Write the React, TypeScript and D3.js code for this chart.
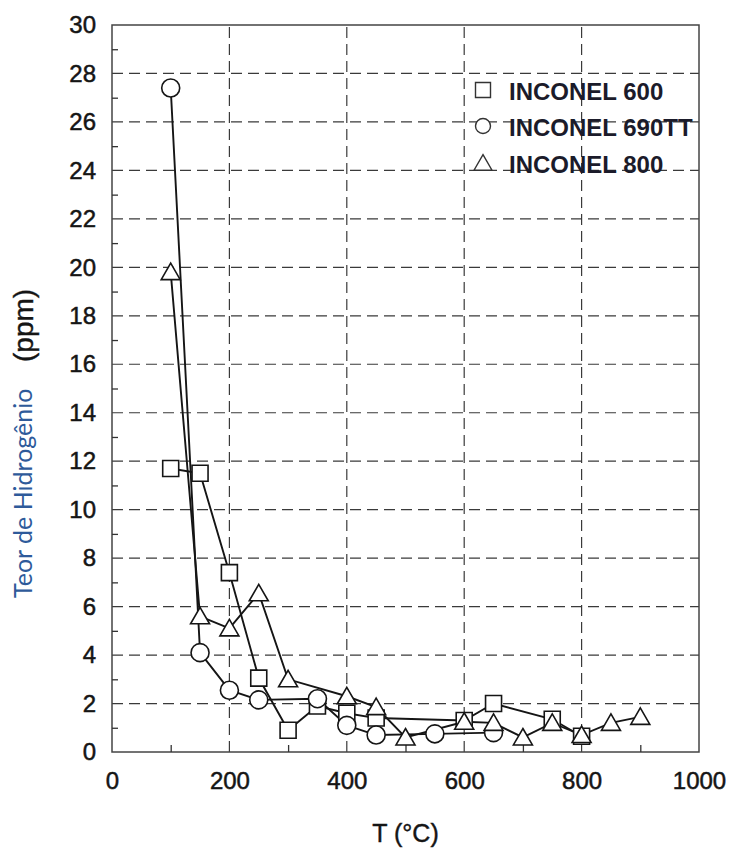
import React, { useEffect, useRef } from 'react';
import * as d3 from 'd3';

// Hydrogen content (ppm) vs temperature (°C)
const temps600 = [100, 150, 200, 250, 300, 350, 400, 450, 600, 650, 750, 800];
const inconel600 = [11.7, 11.5, 7.4, 3.05, 0.9, 1.9, 1.6, 1.4, 1.3, 2.0, 1.35, 0.65];

const temps690 = [100, 150, 200, 250, 350, 400, 450, 550, 650];
const inconel690 = [27.4, 4.1, 2.55, 2.15, 2.2, 1.1, 0.7, 0.75, 0.8];

const temps800 = [100, 150, 200, 250, 300, 400, 450, 500, 600, 650, 700, 750, 800, 850, 900];
const inconel800 = [19.8, 5.6, 5.1, 6.55, 3.0, 2.3, 1.85, 0.6, 1.25, 1.2, 0.6, 1.2, 0.7, 1.2, 1.45];

const seriesNames = ['INCONEL 600', 'INCONEL 690TT', 'INCONEL 800'];
const seriesShapes = ['square', 'circle', 'triangle'];

const xTicks = [0, 200, 400, 600, 800, 1000];
const yTicks = [0, 2, 4, 6, 8, 10, 12, 14, 16, 18, 20, 22, 24, 26, 28, 30];

function App() {
  const svgRef = useRef<SVGSVGElement>(null);

  useEffect(() => {
    const width = 734;
    const height = 849;
    const margin = { top: 25, right: 35, bottom: 97, left: 112 };

    const svg = d3.select(svgRef.current);
    svg.selectAll('*').remove();

    const x = d3.scaleLinear().domain([0, 1000]).range([margin.left, width - margin.right]);
    const y = d3.scaleLinear().domain([0, 30]).range([height - margin.bottom, margin.top]);

    const ink = '#151515';
    const tickFont = '"Liberation Sans", Arial, sans-serif';

    // dashed grid
    const grid = svg.append('g').attr('stroke', '#3a3a3a').attr('stroke-width', 1.2).attr('stroke-dasharray', '11,6');
    grid
      .selectAll('line.gx')
      .data(xTicks.filter((t) => t > 0 && t < 1000))
      .enter()
      .append('line')
      .attr('x1', (d) => x(d))
      .attr('x2', (d) => x(d))
      .attr('y1', y(0))
      .attr('y2', y(30));
    grid
      .selectAll('line.gy')
      .data(yTicks.filter((t) => t > 0 && t < 30))
      .enter()
      .append('line')
      .attr('x1', x(0))
      .attr('x2', x(1000))
      .attr('y1', (d) => y(d))
      .attr('y2', (d) => y(d));

    // frame
    svg
      .append('rect')
      .attr('x', x(0))
      .attr('y', y(30))
      .attr('width', x(1000) - x(0))
      .attr('height', y(0) - y(30))
      .attr('fill', 'none')
      .attr('stroke', '#444')
      .attr('stroke-width', 1.5);

    // minor ticks pointing inward
    const yMinor = d3
      .axisLeft(y)
      .tickValues(d3.range(1, 30, 2))
      .tickSize(-6)
      .tickFormat(() => '');
    svg.append('g').attr('transform', `translate(${x(0)},0)`).call(yMinor).call((g) => g.select('.domain').remove());

    const xMinor = d3
      .axisBottom(x)
      .tickValues(d3.range(100, 1000, 200))
      .tickSize(-7)
      .tickFormat(() => '');
    svg.append('g').attr('transform', `translate(0,${y(0)})`).call(xMinor).call((g) => g.select('.domain').remove());

    svg.selectAll('.tick line').attr('stroke', '#333').attr('stroke-width', 1.3);

    // tick labels
    const yAxis = d3.axisLeft(y).tickValues(yTicks).tickSize(0).tickPadding(16).tickFormat(d3.format('d'));
    const gy = svg.append('g').attr('transform', `translate(${x(0)},0)`).call(yAxis);
    gy.select('.domain').remove();
    gy.selectAll('text')
      .attr('font-family', tickFont)
      .attr('font-size', 24)
      .attr('fill', ink)
      .attr('stroke', ink)
      .attr('stroke-width', 0.5);

    const xAxis = d3.axisBottom(x).tickValues(xTicks).tickSize(0).tickPadding(20).tickFormat(d3.format('d'));
    const gx = svg.append('g').attr('transform', `translate(0,${y(0)})`).call(xAxis);
    gx.select('.domain').remove();
    gx.selectAll('text')
      .attr('font-family', tickFont)
      .attr('font-size', 24)
      .attr('fill', ink)
      .attr('stroke', ink)
      .attr('stroke-width', 0.5);

    // axis titles
    svg
      .append('text')
      .attr('x', (x(0) + x(1000)) / 2)
      .attr('y', 842)
      .attr('text-anchor', 'middle')
      .attr('font-family', tickFont)
      .attr('font-size', 25)
      .attr('fill', ink)
      .attr('stroke', ink)
      .attr('stroke-width', 0.4)
      .text('T (°C)');

    svg
      .append('text')
      .attr('transform', 'translate(32,598) rotate(-90)')
      .attr('font-family', 'Lato, "Open Sans", sans-serif')
      .attr('font-size', 25)
      .attr('fill', '#2E5A9A')
      .text('Teor de Hidrogênio');

    svg
      .append('text')
      .attr('transform', 'translate(33,362) rotate(-90)')
      .attr('font-family', tickFont)
      .attr('font-size', 28)
      .attr('fill', ink)
      .attr('stroke', ink)
      .attr('stroke-width', 0.4)
      .text('(ppm)');

    // series
    const series = [
      { name: seriesNames[0], shape: seriesShapes[0], xs: temps600, ys: inconel600 },
      { name: seriesNames[1], shape: seriesShapes[1], xs: temps690, ys: inconel690 },
      { name: seriesNames[2], shape: seriesShapes[2], xs: temps800, ys: inconel800 },
    ];

    const symbolPath = (shape: string, size: number) => {
      if (shape === 'square') return d3.symbol(d3.symbolSquare, size * size)();
      if (shape === 'circle') return d3.symbol(d3.symbolCircle, Math.PI * (size / 2) ** 2)();
      return d3.symbol(d3.symbolTriangle, (Math.sqrt(3) / 4) * size * size)();
    };
    const symbolSize: Record<string, number> = { square: 16, circle: 18, triangle: 19 };

    const line = d3
      .line<[number, number]>()
      .x((d) => x(d[0]))
      .y((d) => y(d[1]));

    series.forEach((s) => {
      const pts: [number, number][] = s.xs.map((t, i) => [t, s.ys[i]]);
      svg
        .append('path')
        .datum(pts)
        .attr('d', line)
        .attr('fill', 'none')
        .attr('stroke', ink)
        .attr('stroke-width', 1.9);
    });

    series.forEach((s) => {
      const pts: [number, number][] = s.xs.map((t, i) => [t, s.ys[i]]);
      svg
        .append('g')
        .selectAll('path')
        .data(pts)
        .enter()
        .append('path')
        .attr('d', symbolPath(s.shape, symbolSize[s.shape]))
        .attr('transform', (d) => `translate(${x(d[0])},${y(d[1]) + (s.shape === 'triangle' ? 2 : 0)})`)
        .attr('fill', '#fff')
        .attr('stroke', ink)
        .attr('stroke-width', 1.6);
    });

    // legend
    const legend = svg.append('g').attr('transform', 'translate(483,0)');
    const legendY = [90, 126, 163];
    series.forEach((s, i) => {
      legend
        .append('path')
        .attr('d', symbolPath(s.shape, s.shape === 'triangle' ? 18 : 15))
        .attr('transform', `translate(0,${legendY[i] + (s.shape === 'triangle' ? 2 : 0)})`)
        .attr('fill', '#fff')
        .attr('stroke', '#333')
        .attr('stroke-width', 1.4);
      legend
        .append('text')
        .attr('x', 26)
        .attr('y', legendY[i] + 10)
        .attr('font-family', tickFont)
        .attr('font-weight', 'bold')
        .attr('font-size', 24)
        .attr('fill', '#1b1b2a')
        .text(s.name);
    });
  }, []);

  return (
    <svg
      ref={svgRef}
      width={734}
      height={849}
      style={{ position: 'absolute', left: 0, top: 0, background: '#fff' }}
    />
  );
}

export default App;
